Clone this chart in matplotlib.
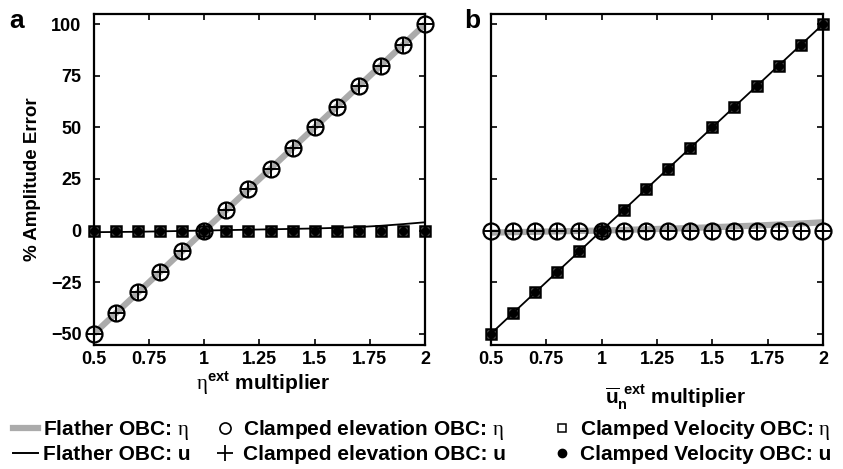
import matplotlib
matplotlib.use("Agg")
import matplotlib.pyplot as plt
from matplotlib.lines import Line2D

plt.rcParams["font.family"] = ["Liberation Sans", "DejaVu Sans"]
plt.rcParams["font.weight"] = "bold"
plt.rcParams["mathtext.fontset"] = "custom"
plt.rcParams["mathtext.rm"] = "Liberation Serif:normal"
plt.rcParams["mathtext.bf"] = "Liberation Sans:bold"

# multiplier values on the x axis
multiplier = [0.5, 0.6, 0.7, 0.8, 0.9, 1.0, 1.1, 1.2, 1.3, 1.4, 1.5, 1.6, 1.7, 1.8, 1.9, 2.0]

# panel a: eta^ext multiplied
a_flather_eta = [-50, -40, -30, -20, -10, 0, 10, 20, 30, 40, 50, 60, 70, 80, 90, 100]
a_flather_u = [-0.8, -0.7, -0.6, -0.4, -0.2, 0.0, 0.2, 0.4, 0.6, 0.8, 1.0, 1.3, 1.7, 2.3, 3.1, 4.0]
a_clamped_elev_eta = [-50, -40, -30, -20, -10, 0, 10, 20, 30, 40, 50, 60, 70, 80, 90, 100]
a_clamped_elev_u = [-50, -40, -30, -20, -10, 0, 10, 20, 30, 40, 50, 60, 70, 80, 90, 100]
a_clamped_vel_eta = [0, 0, 0, 0, 0, 0, 0, 0, 0, 0, 0, 0, 0, 0, 0, 0]
a_clamped_vel_u = [0, 0, 0, 0, 0, 0, 0, 0, 0, 0, 0, 0, 0, 0, 0, 0]

# panel b: u_n^ext multiplied
b_flather_eta = [-1.0, -0.8, -0.6, -0.4, -0.2, 0.0, 0.3, 0.6, 0.9, 1.2, 1.6, 2.0, 2.4, 2.9, 3.4, 4.0]
b_flather_u = [-50, -40, -30, -20, -10, 0, 10, 20, 30, 40, 50, 60, 70, 80, 90, 100]
b_clamped_elev_eta = [0, 0, 0, 0, 0, 0, 0, 0, 0, 0, 0, 0, 0, 0, 0, 0]
b_clamped_elev_u = [0, 0, 0, 0, 0, 0, 0, 0, 0, 0, 0, 0, 0, 0, 0, 0]
b_clamped_vel_eta = [-50, -40, -30, -20, -10, 0, 10, 20, 30, 40, 50, 60, 70, 80, 90, 100]
b_clamped_vel_u = [-50, -40, -30, -20, -10, 0, 10, 20, 30, 40, 50, 60, 70, 80, 90, 100]

xticks = [0.5, 0.75, 1, 1.25, 1.5, 1.75, 2]
xticklabels = ["0.5", "0.75", "1", "1.25", "1.5", "1.75", "2"]
yticks = [-50, -25, 0, 25, 50, 75, 100]
yticklabels = ["\u221250", "\u221225", "0", "25", "50", "75", "100"]

GRAY = "#ababab"


def draw_panel(ax, fl_eta, fl_u, ce_eta, ce_u, cv_eta, cv_u):
    ax.plot(multiplier, fl_eta, color=GRAY, lw=4.5, solid_capstyle="butt", zorder=1)
    ax.plot(multiplier, fl_u, color="black", lw=1.3, zorder=2)
    ax.plot(multiplier, cv_eta, ls="none", marker="s", ms=7, mfc="none",
            mec="black", mew=1.8, zorder=3, clip_on=False)
    ax.plot(multiplier, cv_u, ls="none", marker="o", ms=5.5, mfc="black",
            mec="black", zorder=3, clip_on=False)
    ax.plot(multiplier, ce_eta, ls="none", marker="o", ms=11.5, mfc="none",
            mec="black", mew=1.6, zorder=4, clip_on=False)
    ax.plot(multiplier, ce_u, ls="none", marker="+", ms=11.5, mec="black",
            mew=1.4, zorder=4, clip_on=False)

    ax.set_xlim(0.5, 2)
    ax.set_ylim(-55.5, 105)
    ax.set_xticks(xticks)
    ax.set_xticklabels(xticklabels, fontsize=13, fontweight="bold")
    ax.set_yticks(yticks)
    ax.tick_params(direction="in", top=True, right=True, length=4, width=1.2)
    ax.tick_params(axis="x", pad=4)
    ax.tick_params(axis="y", pad=9)
    for sp in ax.spines.values():
        sp.set_linewidth(1.6)


fig = plt.figure(figsize=(8.43, 4.69), dpi=100)
ax_a = fig.add_axes([0.1115, 0.2644, 0.3926, 0.7058])
ax_b = fig.add_axes([0.5824, 0.2644, 0.3938, 0.7058])

draw_panel(ax_a, a_flather_eta, a_flather_u, a_clamped_elev_eta, a_clamped_elev_u,
           a_clamped_vel_eta, a_clamped_vel_u)
draw_panel(ax_b, b_flather_eta, b_flather_u, b_clamped_elev_eta, b_clamped_elev_u,
           b_clamped_vel_eta, b_clamped_vel_u)

ax_a.set_yticklabels(yticklabels, fontsize=13, fontweight="bold")
ax_b.set_yticklabels([])
ax_a.set_ylabel("% Amplitude Error", fontsize=13.5, fontweight="bold", labelpad=7)
ax_a.set_xlabel(r"$\mathrm{\eta}^{\mathbf{ext}}$ multiplier", fontsize=15, fontweight="bold")
ax_b.set_xlabel(r"$\overline{\mathbf{u}}_{\mathbf{n}}^{\mathbf{\ ext}}$ multiplier", fontsize=15,
                fontweight="bold")
ax_a.xaxis.set_label_coords(0.51, -0.075)
ax_b.xaxis.set_label_coords(0.555, -0.115)

fig.text(0.011, 0.94, "a", fontsize=19, fontweight="bold")
fig.text(0.551, 0.94, "b", fontsize=19, fontweight="bold")

# legend: three columns placed separately
legend_cols = [
    (0.0154, [Line2D([], [], color=GRAY, lw=4.5),
              Line2D([], [], color="black", lw=1.4)],
     [r"Flather OBC: $\mathrm{\eta}$", "Flather OBC: u"]),
    (0.252, [Line2D([], [], ls="none", marker="o", ms=8, mfc="none", mec="black", mew=1.2),
             Line2D([], [], ls="none", marker="+", ms=11, mec="black", mew=1.3)],
     [r"Clamped elevation OBC: $\mathrm{\eta}$", "Clamped elevation OBC: u"]),
    (0.652, [Line2D([], [], ls="none", marker="s", ms=6, mfc="none", mec="black", mew=1.1),
             Line2D([], [], ls="none", marker="o", ms=6, mfc="black", mec="black")],
     [r"Clamped Velocity OBC: $\mathrm{\eta}$", "Clamped Velocity OBC: u"]),
]
for x0, hs, ls in legend_cols:
    fig.legend(hs, ls, loc="upper left", bbox_to_anchor=(x0, 0.108), frameon=False,
               handlelength=1.2, handletextpad=0.25, labelspacing=0.15,
               borderpad=0, borderaxespad=0, prop={"weight": "bold", "size": 15})

fig.savefig("out.png", dpi=100)
